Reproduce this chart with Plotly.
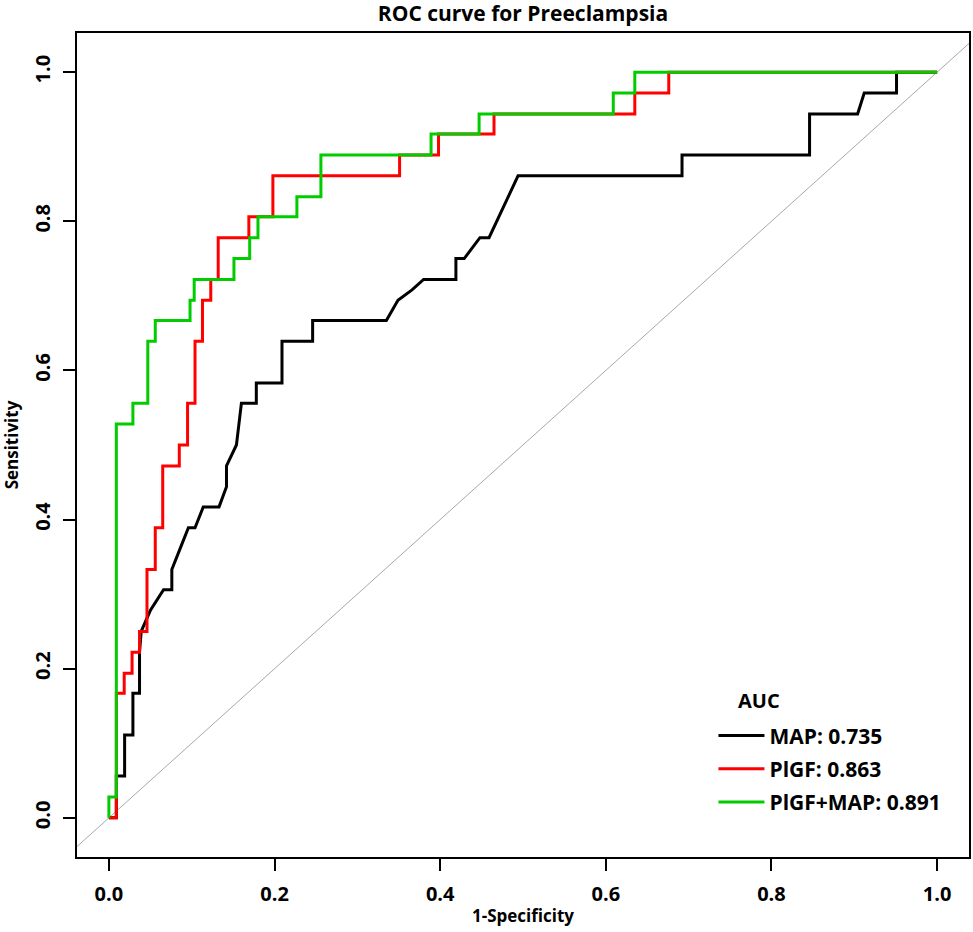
import plotly.graph_objects as go

# ROC vertices (1-specificity, sensitivity)
fpr_map = [0, 0.009, 0.009, 0.019, 0.019, 0.029, 0.029, 0.037, 0.037, 0.039, 0.050, 0.066,
           0.076, 0.076, 0.086, 0.096, 0.104, 0.114, 0.133, 0.142, 0.142, 0.148, 0.154,
           0.157, 0.160, 0.178, 0.178, 0.209, 0.209, 0.246, 0.246, 0.335, 0.349, 0.366,
           0.380, 0.419, 0.419, 0.429, 0.448, 0.459, 0.494, 0.692, 0.692, 0.846, 0.846,
           0.904, 0.912, 0.951, 0.951, 1.0]
tpr_map = [0, 0, 0.056, 0.056, 0.111, 0.111, 0.167, 0.167, 0.222, 0.250, 0.278, 0.306,
           0.306, 0.333, 0.361, 0.389, 0.389, 0.417, 0.417, 0.444, 0.472, 0.486, 0.500,
           0.528, 0.556, 0.556, 0.583, 0.583, 0.639, 0.639, 0.667, 0.667, 0.694, 0.708,
           0.722, 0.722, 0.750, 0.750, 0.778, 0.778, 0.861, 0.861, 0.889, 0.889, 0.944,
           0.944, 0.972, 0.972, 1.0, 1.0]

fpr_plgf = [0, 0.009, 0.009, 0.0185, 0.0185, 0.028, 0.028, 0.037, 0.037, 0.046, 0.046,
            0.056, 0.056, 0.065, 0.065, 0.085, 0.085, 0.095, 0.095, 0.104, 0.104, 0.113,
            0.113, 0.123, 0.123, 0.132, 0.132, 0.169, 0.169, 0.198, 0.198, 0.351, 0.351,
            0.398, 0.398, 0.465, 0.465, 0.635, 0.635, 0.676, 0.676, 1.0]
tpr_plgf = [0, 0, 0.167, 0.167, 0.194, 0.194, 0.222, 0.222, 0.250, 0.250, 0.333,
            0.333, 0.389, 0.389, 0.472, 0.472, 0.500, 0.500, 0.556, 0.556, 0.639, 0.639,
            0.694, 0.694, 0.722, 0.722, 0.778, 0.778, 0.806, 0.806, 0.861, 0.861, 0.889,
            0.889, 0.917, 0.917, 0.944, 0.944, 0.972, 0.972, 1.0, 1.0]

fpr_both = [0, 0, 0.009, 0.009, 0.029, 0.029, 0.047, 0.047, 0.056, 0.056, 0.098, 0.098,
            0.103, 0.103, 0.151, 0.151, 0.170, 0.170, 0.180, 0.180, 0.227, 0.227, 0.256,
            0.256, 0.389, 0.389, 0.447, 0.447, 0.609, 0.609, 0.635, 0.635, 1.0]
tpr_both = [0, 0.028, 0.028, 0.528, 0.528, 0.556, 0.556, 0.639, 0.639, 0.667, 0.667, 0.694,
            0.694, 0.722, 0.722, 0.750, 0.750, 0.778, 0.778, 0.806, 0.806, 0.833, 0.833,
            0.889, 0.889, 0.917, 0.917, 0.944, 0.944, 0.972, 0.972, 1.0, 1.0]

names = ['MAP: 0.735', 'PlGF: 0.863', 'PlGF+MAP: 0.891']
colors = ['#000000', '#ff0000', '#00cc00']
ticks = [0.0, 0.2, 0.4, 0.6, 0.8, 1.0]
tick_text = ['0.0', '0.2', '0.4', '0.6', '0.8', '1.0']

font = 'Open Sans'

fig = go.Figure()
# chance line
fig.add_trace(go.Scatter(x=[-0.2, 1.2], y=[-0.2, 1.2], mode='lines',
                         line=dict(color='#a8a8a8', width=1), showlegend=False, hoverinfo='skip'))
for i, (xs, ys, nm, col) in enumerate(zip([fpr_map, fpr_plgf, fpr_both],
                                          [tpr_map, tpr_plgf, tpr_both], names, colors)):
    fig.add_trace(go.Scatter(x=xs, y=ys, mode='lines', name=nm, legendgroup='g%d' % i,
                             line=dict(color=col, width=3)))

axis_common = dict(
    tickvals=ticks, ticktext=tick_text, ticks='outside', ticklen=12, tickwidth=1.5,
    tickcolor='black', showline=True, linecolor='black', linewidth=2, mirror=True,
    showgrid=False, zeroline=False, automargin=False,
    tickfont=dict(family=font, size=20, color='black', weight='bold'),
)

fig.update_xaxes(range=[-0.0385, 1.0385], ticklabelstandoff=6, **axis_common,
                 title=dict(text='<b>1-Specificity</b>', standoff=4,
                            font=dict(family=font, size=17, color='black')))
fig.update_yaxes(range=[-0.0525, 1.0525], tickangle=-90, ticklabelstandoff=5, **axis_common,
                 title=dict(text='<b>Sensitivity</b>', standoff=11,
                            font=dict(family=font, size=17, color='black')))

fig.add_annotation(text='<b>AUC</b>', xref='paper', yref='paper', x=0.765, y=0.190,
                   xanchor='center', yanchor='middle', showarrow=False,
                   font=dict(family=font, size=20, color='black'))

fig.update_layout(
    width=973, height=932,
    margin=dict(l=77, r=4, t=33, b=75),
    paper_bgcolor='white', plot_bgcolor='white',
    title=dict(text='<b>ROC curve for Preeclampsia</b>', x=0.5, xref='paper',
               y=1, yref='container', yanchor='top', pad=dict(t=6),
               font=dict(family=font, size=21, color='black')),
    legend=dict(x=0.7135, y=0.172, xanchor='left', yanchor='top', bgcolor='rgba(0,0,0,0)',
                font=dict(family=font, size=21, color='black', weight='bold'),
                itemwidth=46, tracegroupgap=3),
    showlegend=True,
)

# page body has a default 8px margin; drop it so the figure sits at the window corner
fig.write_html("out.html", config={'displayModeBar': False},
               post_script="document.body.style.margin='0';")
